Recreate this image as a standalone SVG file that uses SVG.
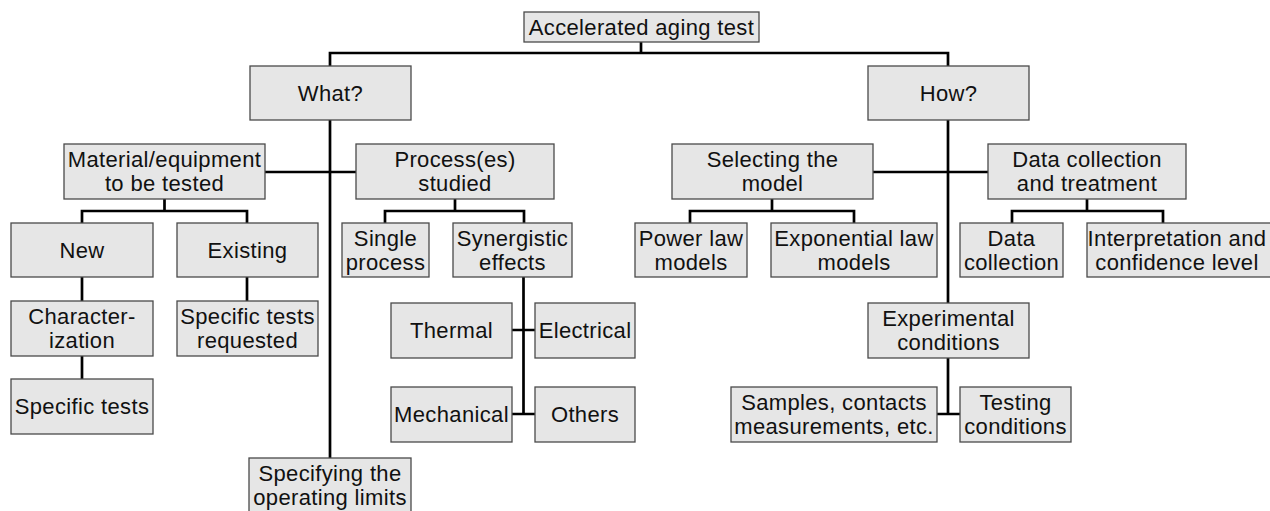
<svg xmlns="http://www.w3.org/2000/svg" width="1270" height="511" viewBox="0 0 1270 511">
<style>
.b{fill:#e6e6e6;stroke:#4a4a4a;stroke-width:1.3}
.t{font-family:"Liberation Sans",Arial,sans-serif;font-size:22px;letter-spacing:0.35px;fill:#111;text-anchor:middle}
.c{fill:none;stroke:#000;stroke-width:2.7}
</style>
<rect width="1270" height="511" fill="#fff"/>
<g id="connectors" class="c">
<path d="M641 42V53M330 66V53H948V66"/>
<path d="M330 120V458"/>
<path d="M265 172H356"/>
<path d="M164.5 199V211M82 223V211H247V223"/>
<path d="M82 277V301M82 356V379"/>
<path d="M247 277V301"/>
<path d="M455 199V211M385 223V211H524V223"/>
<path d="M523.5 277V414M512 330H535M512 414H535"/>
<path d="M948 120V303"/>
<path d="M873 172H988"/>
<path d="M772 199V211M690 223V211H854V223"/>
<path d="M1087 199V211M1012 223V211H1163V223"/>
<path d="M948 358V414M937 414H960"/>
</g>
<g id="n-root"><rect class="b" x="524" y="12" width="235" height="30"/><text class="t" x="641.5" y="34.5">Accelerated aging test</text></g>
<g id="n-what"><rect class="b" x="250" y="66" width="161" height="54"/><text class="t" x="330.5" y="100.5">What?</text></g>
<g id="n-how"><rect class="b" x="868" y="66" width="161" height="54"/><text class="t" x="948.5" y="100.5">How?</text></g>
<g id="n-material"><rect class="b" x="64" y="144" width="201" height="55"/><text class="t" x="164.5" y="167">Material/equipment</text><text class="t" x="164.5" y="191">to be tested</text></g>
<g id="n-process"><rect class="b" x="356" y="144" width="198" height="55"/><text class="t" x="455" y="167">Process(es)</text><text class="t" x="455" y="191">studied</text></g>
<g id="n-selecting"><rect class="b" x="672" y="144" width="201" height="55"/><text class="t" x="772.5" y="167">Selecting the</text><text class="t" x="772.5" y="191">model</text></g>
<g id="n-datatreat"><rect class="b" x="988" y="144" width="198" height="55"/><text class="t" x="1087" y="167">Data collection</text><text class="t" x="1087" y="191">and treatment</text></g>
<g id="n-new"><rect class="b" x="11" y="223" width="142" height="54"/><text class="t" x="82" y="257.5">New</text></g>
<g id="n-existing"><rect class="b" x="177" y="223" width="141" height="54"/><text class="t" x="247.5" y="257.5">Existing</text></g>
<g id="n-single"><rect class="b" x="342" y="223" width="87" height="54"/><text class="t" x="385.5" y="245.5">Single</text><text class="t" x="385.5" y="269.5">process</text></g>
<g id="n-synergistic"><rect class="b" x="453" y="223" width="119" height="54"/><text class="t" x="512.5" y="245.5">Synergistic</text><text class="t" x="512.5" y="269.5">effects</text></g>
<g id="n-power"><rect class="b" x="635" y="223" width="112" height="54"/><text class="t" x="691" y="245.5">Power law</text><text class="t" x="691" y="269.5">models</text></g>
<g id="n-exponential"><rect class="b" x="771" y="223" width="166" height="54"/><text class="t" x="854" y="245.5">Exponential law</text><text class="t" x="854" y="269.5">models</text></g>
<g id="n-datacoll"><rect class="b" x="960" y="223" width="103" height="54"/><text class="t" x="1011.5" y="245.5">Data</text><text class="t" x="1011.5" y="269.5">collection</text></g>
<g id="n-interp"><rect class="b" x="1087" y="223" width="190" height="54"/><text class="t" x="1177" y="245.5">Interpretation and</text><text class="t" x="1177" y="269.5">confidence level</text></g>
<g id="n-character"><rect class="b" x="11" y="301" width="142" height="55"/><text class="t" x="82" y="324">Character-</text><text class="t" x="82" y="348">ization</text></g>
<g id="n-specreq"><rect class="b" x="177" y="301" width="141" height="55"/><text class="t" x="247.5" y="324">Specific tests</text><text class="t" x="247.5" y="348">requested</text></g>
<g id="n-thermal"><rect class="b" x="391" y="303" width="121" height="55"/><text class="t" x="451.5" y="338">Thermal</text></g>
<g id="n-electrical"><rect class="b" x="535" y="303" width="100" height="55"/><text class="t" x="585" y="338">Electrical</text></g>
<g id="n-experimental"><rect class="b" x="868" y="303" width="161" height="55"/><text class="t" x="948.5" y="326">Experimental</text><text class="t" x="948.5" y="350">conditions</text></g>
<g id="n-spectests"><rect class="b" x="11" y="379" width="142" height="55"/><text class="t" x="82" y="414">Specific tests</text></g>
<g id="n-mechanical"><rect class="b" x="391" y="387" width="121" height="55"/><text class="t" x="451.5" y="422">Mechanical</text></g>
<g id="n-others"><rect class="b" x="535" y="387" width="100" height="55"/><text class="t" x="585" y="422">Others</text></g>
<g id="n-samples"><rect class="b" x="731" y="387" width="206" height="55"/><text class="t" x="834" y="410">Samples, contacts</text><text class="t" x="834" y="434">measurements, etc.</text></g>
<g id="n-testing"><rect class="b" x="960" y="387" width="111" height="55"/><text class="t" x="1015.5" y="410">Testing</text><text class="t" x="1015.5" y="434">conditions</text></g>
<g id="n-specifying"><rect class="b" x="249" y="458" width="162" height="56"/><text class="t" x="330" y="481">Specifying the</text><text class="t" x="330" y="505">operating limits</text></g>
</svg>
